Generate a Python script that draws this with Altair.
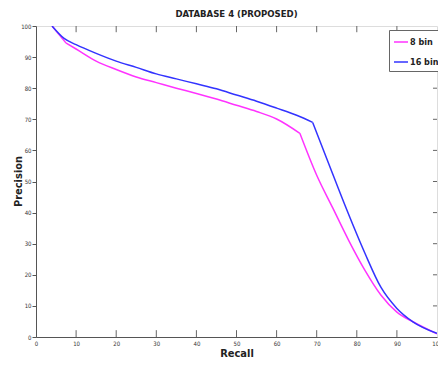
import altair as alt
import pandas as pd

# 8 bin: three smooth pieces joined at sharp corners
recall_8 = [4, 7.5, 7.5, 10, 15, 20, 25, 30, 35, 40, 45, 50, 55, 60, 65.8, 65.8, 70, 74, 78, 82, 86, 90, 94, 100]
prec_8 = [100, 94.5, 94.5, 92.6, 88.7, 86, 83.6, 81.8, 80, 78.3, 76.5, 74.5, 72.5, 70.1, 65.5, 65.5, 52, 41.5, 31, 21.5, 13.5, 8, 4.9, 1]
piece_8 = ["a", "a", "b", "b", "b", "b", "b", "b", "b", "b", "b", "b", "b", "b", "b", "c", "c", "c", "c", "c", "c", "c", "c", "c"]

# 16 bin: two smooth pieces joined at a sharp corner
recall_16 = [4, 7, 10, 15, 20, 25, 30, 35, 40, 45, 50, 55, 60, 65, 69, 69, 73, 77, 82, 86, 90, 94, 100]
prec_16 = [100, 96, 94, 91.2, 88.7, 86.7, 84.6, 83, 81.4, 79.8, 77.8, 75.8, 73.6, 71.3, 69.0, 69.0, 55.7, 42.5, 27, 16, 9.2, 4.9, 1.2]
piece_16 = ["a"] * 15 + ["b"] * 8

series_names = ["8 bin", "16 bin"]
series_colors = ["#ff33ff", "#3333ff"]
x_ticks = [0, 10, 20, 30, 40, 50, 60, 70, 80, 90, 100]
y_ticks = [0, 10, 20, 30, 40, 50, 60, 70, 80, 90, 100]

FONT = "DejaVu Sans Condensed, Liberation Sans Narrow, Arial Narrow, Liberation Sans, sans-serif"

df = pd.concat([
    pd.DataFrame({"recall": recall_8, "precision": prec_8, "series": series_names[0],
                  "piece": ["8" + p for p in piece_8]}),
    pd.DataFrame({"recall": recall_16, "precision": prec_16, "series": series_names[1],
                  "piece": ["16" + p for p in piece_16]}),
])

xs = alt.Scale(domain=[0, 100], nice=False)
ys = alt.Scale(domain=[0, 100], nice=False)

x_axis = alt.Axis(
    values=x_ticks, title="Recall", ticks=False, labelPadding=3, labelFontSize=6,
    labelFont=FONT, titleFont=FONT, titleFontSize=11, titleFontWeight="bold",
    titleBaseline="middle", titleY=16, labelColor="#333", titleColor="#222",
    domainColor="#555", grid=False, labelFlush=False, labelOverlap=False)
y_axis = alt.Axis(
    values=y_ticks, title="Precision", tickSize=4, tickColor="#555", labelPadding=1,
    labelFontSize=6, labelFont=FONT, titleFont=FONT, titleFontSize=11,
    titleFontWeight="bold", titleBaseline="middle", titleX=-18, titleY=155,
    labelColor="#333", titleColor="#222", domainColor="#555", grid=False,
    labelOverlap=False)

lines = alt.Chart(df).mark_line(strokeWidth=1.5, clip=True, interpolate="monotone").encode(
    x=alt.X("recall:Q", scale=xs, axis=x_axis),
    y=alt.Y("precision:Q", scale=ys, axis=y_axis),
    detail="piece:N",
    color=alt.Color("series:N", scale=alt.Scale(domain=series_names, range=series_colors),
                    sort=series_names,
                    legend=alt.Legend(title=None, orient="none", legendX=353, legendY=4,
                                      strokeColor="#666", fillColor="white", padding=4,
                                      symbolType="stroke", symbolSize=196, symbolStrokeWidth=1.5,
                                      labelFont=FONT, labelFontSize=9, labelFontWeight="bold",
                                      labelColor="#222", rowPadding=7, labelOffset=1)),
)

tick_df = pd.DataFrame({"t": x_ticks[1:-1]})
ytick_df = pd.DataFrame({"t": y_ticks[1:-1]})

bottom_ticks = alt.Chart(tick_df).mark_rule(color="#666", strokeWidth=1).encode(
    x=alt.X("t:Q", scale=xs, axis=x_axis, title="Recall"),
    y=alt.datum(0, scale=ys, axis=y_axis, title="Precision"), y2=alt.datum(2.2))
top_ticks = alt.Chart(tick_df).mark_rule(color="#666", strokeWidth=1).encode(
    x=alt.X("t:Q", scale=xs, axis=x_axis, title="Recall"),
    y=alt.datum(100, scale=ys, axis=y_axis, title="Precision"), y2=alt.datum(98))
right_ticks = alt.Chart(ytick_df).mark_rule(color="#666", strokeWidth=1).encode(
    y=alt.Y("t:Q", scale=ys, axis=y_axis, title="Precision"),
    x=alt.datum(100, scale=xs, axis=x_axis, title="Recall"), x2=alt.datum(99))

chart = alt.layer(lines, bottom_ticks, top_ticks, right_ticks).properties(
    width=401, height=311,
    title=alt.TitleParams("DATABASE 4 (PROPOSED)", font=FONT, fontSize=9.5, fontWeight="bold",
                          color="#222", anchor="middle", offset=5),
    autosize=alt.AutoSizeParams(type="none"),
    padding={"left": 36, "top": 26, "right": 1, "bottom": 28},
).configure_view(stroke="#555", strokeWidth=1).configure(background="white")

chart.save("out.html", embed_options={"renderer": "svg", "actions": False})
